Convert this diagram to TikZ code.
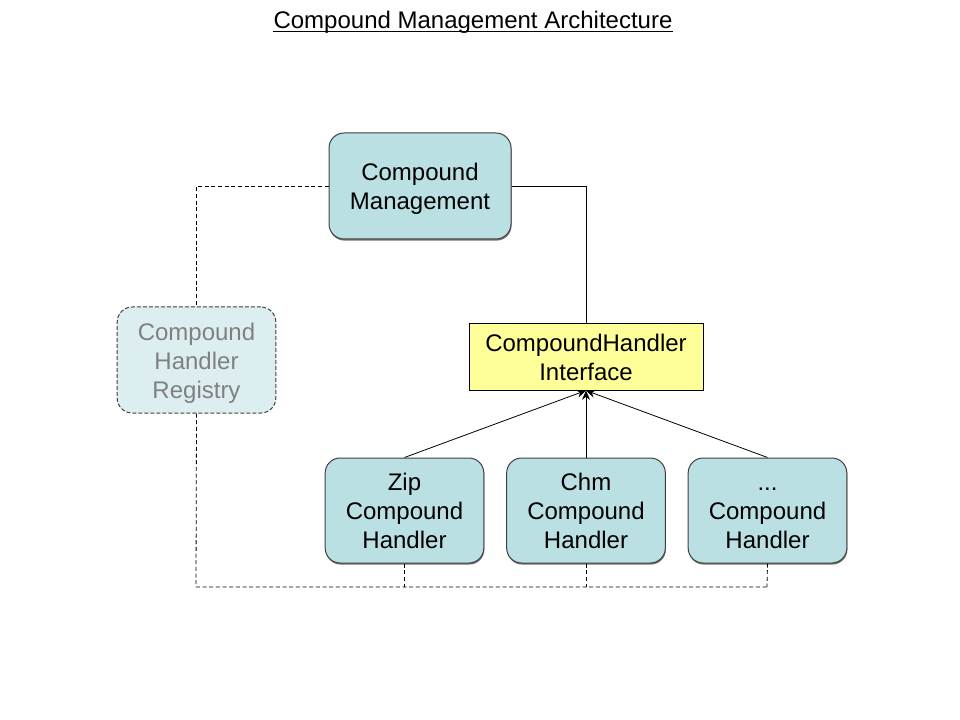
\documentclass[tikz,border=0pt]{standalone}
\usepackage{fontspec}
\setmainfont{Liberation Sans}
\usetikzlibrary{arrows.meta,shadows}
\definecolor{boxfill}{HTML}{BBE0E3}
\definecolor{regfill}{HTML}{DDEEF0}
\definecolor{ifill}{HTML}{FFFF99}
\definecolor{gtext}{HTML}{808080}
\newcommand\boxtext[1]{\raisebox{-2.6pt}[\height][\depth]{\begin{tabular}{@{}c@{}}#1\end{tabular}}}
\tikzset{
  px/.style={x=0.75pt,y=-0.75pt},
  bigfont/.style={font=\fontsize{18pt}{21.6pt}\selectfont},
  comp/.style={draw=black!75, fill=boxfill, rounded corners=11.25pt, line width=0.75pt,
     bigfont, inner sep=0pt,
     drop shadow={shadow xshift=0.4pt, shadow yshift=-1.2pt, fill=black!55, opacity=1}},
  reg/.style={draw=black!75, dash pattern=on 3pt off 1.5pt, fill=regfill, rounded corners=11.25pt, line width=0.75pt,
     text=gtext, bigfont, inner sep=0pt},
  iface/.style={draw=black, fill=ifill, line width=0.75pt, bigfont, inner sep=0pt},
  solidline/.style={draw=black, line width=0.6pt},
  dashline/.style={draw=black, line width=0.6pt, dash pattern=on 3pt off 2pt},
  inherit/.style={draw=black, line width=0.6pt, -{Stealth[length=7pt,width=6pt]}},
}
\begin{document}
\begin{tikzpicture}[px]
\useasboundingbox (0,0) rectangle (960,720);
\node[bigfont, inner sep=0pt, anchor=base] (title) at (473,28.5) {Compound Management Architecture};
\draw[line width=0.75pt] ([yshift=-2.5pt]title.base west) -- ([yshift=-2.5pt]title.base east);
\node[comp, minimum width=136.5pt, minimum height=79.5pt] (cm) at (420,186) {\boxtext{Compound\\Management}};
\node[reg, minimum width=119pt, minimum height=79.5pt] (reg) at (196.5,360) {\boxtext{Compound\\Handler\\Registry}};
\node[iface, minimum width=175.5pt, minimum height=50.25pt] (if) at (586,356.5) {\boxtext{CompoundHandler\\Interface}};
\node[comp, minimum width=119pt, minimum height=78.75pt] (zip) at (404.5,510.5) {\boxtext{Zip\\Compound\\Handler}};
\node[comp, minimum width=119pt, minimum height=78.75pt] (chm) at (586,510.5) {\boxtext{Chm\\Compound\\Handler}};
\node[comp, minimum width=119pt, minimum height=78.75pt] (etc) at (767.5,510.5) {\boxtext{...\\Compound\\Handler}};
\coordinate (bl) at (196,587);
\coordinate (br) at (767,587);
% solid connector
\draw[solidline] (cm.east) -| (if.north);
% dashed connectors
\draw[dashline] (cm.west) -| (reg.north);
\draw[dashline] (reg.south) -- (bl) -- (br);
\draw[dashline] (zip.south) -- (zip.south |- bl);
\draw[dashline] (chm.south) -- (chm.south |- bl);
\draw[dashline] (etc.south) -- (br);
% inheritance arrows
\draw[inherit] (zip.north) -- (if.south);
\draw[inherit] (etc.north) -- (if.south);
\draw[inherit] (chm.north) -- (if.south);
\end{tikzpicture}
\end{document}
